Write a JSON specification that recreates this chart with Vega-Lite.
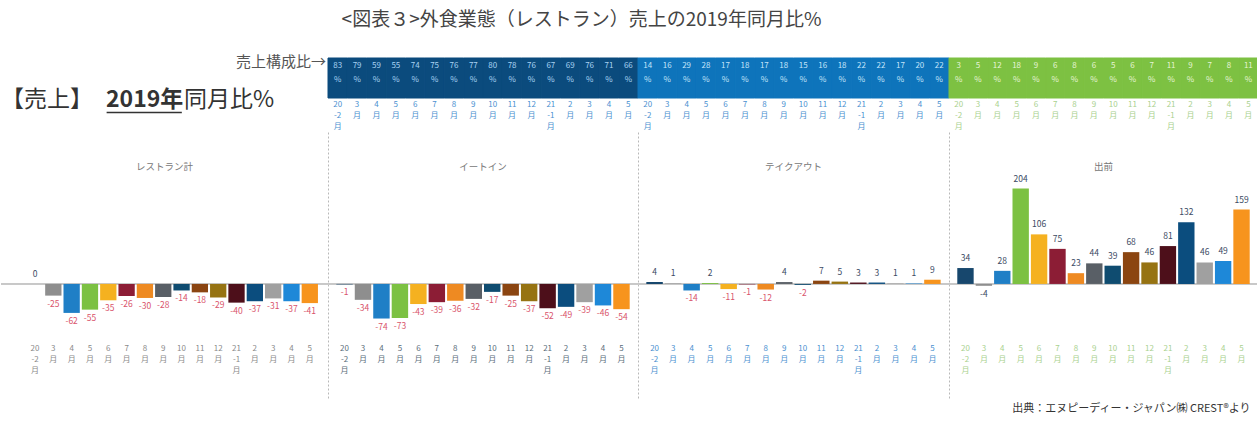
{
  "$schema": "https://vega.github.io/schema/vega-lite/v6.json",
  "padding": {"left": 0, "top": 11, "right": 0, "bottom": 0},
  "background": "white",
  "config": {
    "font": "Noto Sans CJK JP",
    "view": {"stroke": null},
    "text": {"font": "Noto Sans CJK JP"},
    "axis": {"labelFont": "Noto Sans CJK JP"},
    "title": {"font": "Noto Sans CJK JP"}
  },
  "title": {"text": "<図表３>外食業態（レストラン）売上の2019年同月比%", "fontSize": 19, "fontWeight": "normal", "color": "#444", "anchor": "middle", "dx": -48, "offset": 25},
  "data": {"name": "d"},
  "datasets": {
    "d": [
      {"p": "レストラン計", "m": "2020-02", "lbl": "20|-2|月", "v": 0},
      {"p": "レストラン計", "m": "2020-03", "lbl": "3|月", "v": -25},
      {"p": "レストラン計", "m": "2020-04", "lbl": "4|月", "v": -62},
      {"p": "レストラン計", "m": "2020-05", "lbl": "5|月", "v": -55},
      {"p": "レストラン計", "m": "2020-06", "lbl": "6|月", "v": -35},
      {"p": "レストラン計", "m": "2020-07", "lbl": "7|月", "v": -26},
      {"p": "レストラン計", "m": "2020-08", "lbl": "8|月", "v": -30},
      {"p": "レストラン計", "m": "2020-09", "lbl": "9|月", "v": -28},
      {"p": "レストラン計", "m": "2020-10", "lbl": "10|月", "v": -14},
      {"p": "レストラン計", "m": "2020-11", "lbl": "11|月", "v": -18},
      {"p": "レストラン計", "m": "2020-12", "lbl": "12|月", "v": -29},
      {"p": "レストラン計", "m": "2021-01", "lbl": "21|-1|月", "v": -40},
      {"p": "レストラン計", "m": "2021-02", "lbl": "2|月", "v": -37},
      {"p": "レストラン計", "m": "2021-03", "lbl": "3|月", "v": -31},
      {"p": "レストラン計", "m": "2021-04", "lbl": "4|月", "v": -37},
      {"p": "レストラン計", "m": "2021-05", "lbl": "5|月", "v": -41},
      {"p": "イートイン", "m": "2020-02", "lbl": "20|-2|月", "v": -1, "s": 83},
      {"p": "イートイン", "m": "2020-03", "lbl": "3|月", "v": -34, "s": 79},
      {"p": "イートイン", "m": "2020-04", "lbl": "4|月", "v": -74, "s": 59},
      {"p": "イートイン", "m": "2020-05", "lbl": "5|月", "v": -73, "s": 55},
      {"p": "イートイン", "m": "2020-06", "lbl": "6|月", "v": -43, "s": 74},
      {"p": "イートイン", "m": "2020-07", "lbl": "7|月", "v": -39, "s": 75},
      {"p": "イートイン", "m": "2020-08", "lbl": "8|月", "v": -36, "s": 76},
      {"p": "イートイン", "m": "2020-09", "lbl": "9|月", "v": -32, "s": 77},
      {"p": "イートイン", "m": "2020-10", "lbl": "10|月", "v": -17, "s": 80},
      {"p": "イートイン", "m": "2020-11", "lbl": "11|月", "v": -25, "s": 78},
      {"p": "イートイン", "m": "2020-12", "lbl": "12|月", "v": -37, "s": 76},
      {"p": "イートイン", "m": "2021-01", "lbl": "21|-1|月", "v": -52, "s": 67},
      {"p": "イートイン", "m": "2021-02", "lbl": "2|月", "v": -49, "s": 69},
      {"p": "イートイン", "m": "2021-03", "lbl": "3|月", "v": -39, "s": 76},
      {"p": "イートイン", "m": "2021-04", "lbl": "4|月", "v": -46, "s": 71},
      {"p": "イートイン", "m": "2021-05", "lbl": "5|月", "v": -54, "s": 66},
      {"p": "テイクアウト", "m": "2020-02", "lbl": "20|-2|月", "v": 4, "s": 14},
      {"p": "テイクアウト", "m": "2020-03", "lbl": "3|月", "v": 1, "s": 16},
      {"p": "テイクアウト", "m": "2020-04", "lbl": "4|月", "v": -14, "s": 29},
      {"p": "テイクアウト", "m": "2020-05", "lbl": "5|月", "v": 2, "s": 28},
      {"p": "テイクアウト", "m": "2020-06", "lbl": "6|月", "v": -11, "s": 17},
      {"p": "テイクアウト", "m": "2020-07", "lbl": "7|月", "v": -1, "s": 18},
      {"p": "テイクアウト", "m": "2020-08", "lbl": "8|月", "v": -12, "s": 17},
      {"p": "テイクアウト", "m": "2020-09", "lbl": "9|月", "v": 4, "s": 18},
      {"p": "テイクアウト", "m": "2020-10", "lbl": "10|月", "v": -2, "s": 15},
      {"p": "テイクアウト", "m": "2020-11", "lbl": "11|月", "v": 7, "s": 16},
      {"p": "テイクアウト", "m": "2020-12", "lbl": "12|月", "v": 5, "s": 18},
      {"p": "テイクアウト", "m": "2021-01", "lbl": "21|-1|月", "v": 3, "s": 22},
      {"p": "テイクアウト", "m": "2021-02", "lbl": "2|月", "v": 3, "s": 22},
      {"p": "テイクアウト", "m": "2021-03", "lbl": "3|月", "v": 1, "s": 17},
      {"p": "テイクアウト", "m": "2021-04", "lbl": "4|月", "v": 1, "s": 20},
      {"p": "テイクアウト", "m": "2021-05", "lbl": "5|月", "v": 9, "s": 22},
      {"p": "出前", "m": "2020-02", "lbl": "20|-2|月", "v": 34, "s": 3},
      {"p": "出前", "m": "2020-03", "lbl": "3|月", "v": -4, "s": 5},
      {"p": "出前", "m": "2020-04", "lbl": "4|月", "v": 28, "s": 12},
      {"p": "出前", "m": "2020-05", "lbl": "5|月", "v": 204, "s": 18},
      {"p": "出前", "m": "2020-06", "lbl": "6|月", "v": 106, "s": 9},
      {"p": "出前", "m": "2020-07", "lbl": "7|月", "v": 75, "s": 6},
      {"p": "出前", "m": "2020-08", "lbl": "8|月", "v": 23, "s": 8},
      {"p": "出前", "m": "2020-09", "lbl": "9|月", "v": 44, "s": 6},
      {"p": "出前", "m": "2020-10", "lbl": "10|月", "v": 39, "s": 5},
      {"p": "出前", "m": "2020-11", "lbl": "11|月", "v": 68, "s": 6},
      {"p": "出前", "m": "2020-12", "lbl": "12|月", "v": 46, "s": 7},
      {"p": "出前", "m": "2021-01", "lbl": "21|-1|月", "v": 81, "s": 11},
      {"p": "出前", "m": "2021-02", "lbl": "2|月", "v": 132, "s": 9},
      {"p": "出前", "m": "2021-03", "lbl": "3|月", "v": 46, "s": 7},
      {"p": "出前", "m": "2021-04", "lbl": "4|月", "v": 49, "s": 8},
      {"p": "出前", "m": "2021-05", "lbl": "5|月", "v": 159, "s": 11}
    ]
  },
  "bounds": "flush",
  "spacing": 74,
  "vconcat": [
    {
      "bounds": "flush",
      "spacing": 0,
      "hconcat": [
        {
          "width": 327, "height": 40,
          "layer": [
            {"data": {"values": [{"t": "売上構成比→"}]}, "mark": {"type": "text", "align": "right", "baseline": "middle", "fontSize": 15, "color": "#555", "dx": -2, "dy": 4},
             "encoding": {"x": {"datum": 1, "type": "quantitative", "scale": {"domain": [0, 1]}, "axis": null}, "y": {"datum": 1, "type": "quantitative", "scale": {"domain": [0, 1]}, "axis": null}, "text": {"field": "t"}}},
            {"data": {"values": [{"t": "【売上】"}]}, "mark": {"type": "text", "align": "left", "baseline": "middle", "fontSize": 23, "color": "#333", "dx": 0, "dy": 2},
             "encoding": {"x": {"datum": 0, "type": "quantitative", "scale": {"domain": [0, 1]}, "axis": null}, "y": {"datum": 0, "type": "quantitative", "scale": {"domain": [0, 1]}, "axis": null}, "text": {"field": "t"}}},
            {"data": {"values": [{"t": "2019年"}]}, "mark": {"type": "text", "align": "left", "baseline": "middle", "fontSize": 23, "fontWeight": "bold", "color": "#333", "dx": 105, "dy": 2},
             "encoding": {"x": {"datum": 0, "type": "quantitative", "scale": {"domain": [0, 1]}, "axis": null}, "y": {"datum": 0, "type": "quantitative", "scale": {"domain": [0, 1]}, "axis": null}, "text": {"field": "t"}}},
            {"data": {"values": [{"t": "同月比%"}]}, "mark": {"type": "text", "align": "left", "baseline": "middle", "fontSize": 23, "color": "#333", "dx": 183, "dy": 2},
             "encoding": {"x": {"datum": 0, "type": "quantitative", "scale": {"domain": [0, 1]}, "axis": null}, "y": {"datum": 0, "type": "quantitative", "scale": {"domain": [0, 1]}, "axis": null}, "text": {"field": "t"}}},
            {"data": {"values": [{"t": "u"}]}, "mark": {"type": "rule", "color": "#333", "strokeWidth": 1.5},
             "encoding": {"x": {"datum": 0.323, "type": "quantitative", "scale": {"domain": [0, 1]}, "axis": null}, "x2": {"datum": 0.553}, "y": {"datum": -0.36, "type": "quantitative", "scale": {"domain": [0, 1]}, "axis": null}}}
          ]
        },
        {
          "width": 310, "height": 40,
          "transform": [{"filter": "datum.p == 'イートイン'"}],
          "layer": [
            {"mark": {"type": "rect", "color": "#0b4b7d", "stroke": "#0b4b7d", "strokeWidth": 1},
             "encoding": {"x": {"field": "m", "type": "nominal", "scale": {"type": "band", "paddingInner": 0, "paddingOuter": 0},
               "axis": {"orient": "bottom", "domain": false, "ticks": false, "grid": false, "labelAngle": 0, "labelFontSize": 8, "labelColor": "#4a90d0", "labelBaseline": "top", "labelPadding": 2, "labelLineHeight": 11, "labelOverlap": false, "title": null,
                 "labelExpr": "datum.value == '2020-02' ? ['20','-2','月'] : datum.value == '2021-01' ? ['21','-1','月'] : [toString(toNumber(slice(datum.value, 5))), '月']"}}}},
            {"mark": {"type": "text", "fontSize": 8, "color": "#a9d3f3", "baseline": "middle", "dy": -12},
             "encoding": {"x": {"field": "m", "type": "nominal"}, "text": {"field": "s"}}},
            {"mark": {"type": "text", "fontSize": 8, "color": "#a9d3f3", "baseline": "middle", "dy": 2, "text": "%"},
             "encoding": {"x": {"field": "m", "type": "nominal"}}}
          ]
        },
        {
          "width": 311, "height": 40,
          "transform": [{"filter": "datum.p == 'テイクアウト'"}],
          "layer": [
            {"mark": {"type": "rect", "color": "#0e74bb", "stroke": "#0e74bb", "strokeWidth": 1},
             "encoding": {"x": {"field": "m", "type": "nominal", "scale": {"type": "band", "paddingInner": 0, "paddingOuter": 0},
               "axis": {"orient": "bottom", "domain": false, "ticks": false, "grid": false, "labelAngle": 0, "labelFontSize": 8, "labelColor": "#4a90d0", "labelBaseline": "top", "labelPadding": 2, "labelLineHeight": 11, "labelOverlap": false, "title": null,
                 "labelExpr": "datum.value == '2020-02' ? ['20','-2','月'] : datum.value == '2021-01' ? ['21','-1','月'] : [toString(toNumber(slice(datum.value, 5))), '月']"}}}},
            {"mark": {"type": "text", "fontSize": 8, "color": "#c4e4fa", "baseline": "middle", "dy": -12},
             "encoding": {"x": {"field": "m", "type": "nominal"}, "text": {"field": "s"}}},
            {"mark": {"type": "text", "fontSize": 8, "color": "#c4e4fa", "baseline": "middle", "dy": 2, "text": "%"},
             "encoding": {"x": {"field": "m", "type": "nominal"}}}
          ]
        },
        {
          "width": 309, "height": 40,
          "transform": [{"filter": "datum.p == '出前'"}],
          "layer": [
            {"mark": {"type": "rect", "color": "#7dc142", "stroke": "#7dc142", "strokeWidth": 1},
             "encoding": {"x": {"field": "m", "type": "nominal", "scale": {"type": "band", "paddingInner": 0, "paddingOuter": 0},
               "axis": {"orient": "bottom", "domain": false, "ticks": false, "grid": false, "labelAngle": 0, "labelFontSize": 8, "labelColor": "#a9d18e", "labelBaseline": "top", "labelPadding": 2, "labelLineHeight": 11, "labelOverlap": false, "title": null,
                 "labelExpr": "datum.value == '2020-02' ? ['20','-2','月'] : datum.value == '2021-01' ? ['21','-1','月'] : [toString(toNumber(slice(datum.value, 5))), '月']"}}}},
            {"mark": {"type": "text", "fontSize": 8, "color": "#e6f4d6", "baseline": "middle", "dy": -12},
             "encoding": {"x": {"field": "m", "type": "nominal"}, "text": {"field": "s"}}},
            {"mark": {"type": "text", "fontSize": 8, "color": "#e6f4d6", "baseline": "middle", "dy": 2, "text": "%"},
             "encoding": {"x": {"field": "m", "type": "nominal"}}}
          ]
        }
      ]
    },
    {
      "bounds": "flush",
      "spacing": 0,
      "title": {"text": "出典：エヌピーディー・ジャパン㈱ CREST®より", "orient": "bottom", "anchor": "end", "fontSize": 11, "fontWeight": "normal", "color": "#333", "offset": 5, "dx": -8},
      "hconcat": [
        {
          "width": 327, "height": 266,
          "transform": [{"filter": "datum.p == 'レストラン計'"}],
          "layer": [
            {"mark": {"type": "rule", "color": "#c8c8c8", "strokeWidth": 1},
             "encoding": {"y": {"datum": 0, "type": "quantitative", "scale": {"domain": [-244, 325], "nice": false, "zero": false}, "axis": null}}},
            {"mark": {"type": "bar"},
             "encoding": {
               "x": {"field": "m", "type": "nominal", "scale": {"type": "band", "paddingInner": 0.11, "paddingOuter": 0.98, "align": 0.72}, "axis": null},
               "y": {"field": "v", "type": "quantitative", "scale": {"domain": [-244, 325], "nice": false, "zero": false}, "axis": null},
               "color": {"field": "m", "type": "nominal", "legend": null, "scale": {"domain": ["2020-02","2020-03","2020-04","2020-05","2020-06","2020-07","2020-08","2020-09","2020-10","2020-11","2020-12","2021-01","2021-02","2021-03","2021-04","2021-05"], "range": ["#17476d","#8e8e8e","#1f7fc6","#7cc142","#f5b120","#8c1d35","#ee8a22","#595f66","#0f4c70","#8b4511","#967312","#4d0f1a","#0b4d7e","#a0a0a0","#1e88d8","#f7941d"]}}
             }},
            {"transform": [{"filter": "datum.v < 0"}],
             "mark": {"type": "text", "baseline": "top", "dy": 4, "fontSize": 8.5, "color": "#d9546b"},
             "encoding": {"x": {"field": "m", "type": "nominal"}, "y": {"field": "v", "type": "quantitative", "axis": null}, "text": {"field": "v"}}},
            {"transform": [{"filter": "datum.v >= 0"}],
             "mark": {"type": "text", "baseline": "bottom", "dy": -5, "fontSize": 8.5, "color": "#3b4a63"},
             "encoding": {"x": {"field": "m", "type": "nominal"}, "y": {"field": "v", "type": "quantitative", "axis": null}, "text": {"field": "v"}}},
            {"mark": {"type": "text", "baseline": "middle", "lineBreak": "|", "lineHeight": 11, "fontSize": 8, "color": "#8a8a8a"},
             "encoding": {"x": {"field": "m", "type": "nominal"}, "y": {"datum": -139, "type": "quantitative", "axis": null}, "text": {"field": "lbl"}}},
            {"transform": [{"filter": "datum.m == '2020-02'"}],
             "mark": {"type": "text", "baseline": "middle", "fontSize": 9.5, "color": "#777"},
             "encoding": {"y": {"datum": 250, "type": "quantitative", "axis": null}, "text": {"field": "p"}}}
          ]
        },
        {
          "width": 310, "height": 266,
          "transform": [{"filter": "datum.p == 'イートイン'"}],
          "layer": [
            {"mark": {"type": "rule", "color": "#c8c8c8", "strokeWidth": 1},
             "encoding": {"y": {"datum": 0, "type": "quantitative", "scale": {"domain": [-244, 325], "nice": false, "zero": false}, "axis": {"domain": true, "domainColor": "#b8b8b8", "domainDash": [2, 2], "ticks": false, "labels": false, "grid": false, "title": null}}}},
            {"mark": {"type": "bar"},
             "encoding": {
               "x": {"field": "m", "type": "nominal", "scale": {"type": "band", "paddingInner": 0.11, "paddingOuter": 0.45}, "axis": null},
               "y": {"field": "v", "type": "quantitative", "scale": {"domain": [-244, 325], "nice": false, "zero": false}, "axis": {"domain": true, "domainColor": "#b8b8b8", "domainDash": [2, 2], "ticks": false, "labels": false, "grid": false, "title": null}},
               "color": {"field": "m", "type": "nominal", "legend": null, "scale": {"domain": ["2020-02","2020-03","2020-04","2020-05","2020-06","2020-07","2020-08","2020-09","2020-10","2020-11","2020-12","2021-01","2021-02","2021-03","2021-04","2021-05"], "range": ["#17476d","#8e8e8e","#1f7fc6","#7cc142","#f5b120","#8c1d35","#ee8a22","#595f66","#0f4c70","#8b4511","#967312","#4d0f1a","#0b4d7e","#a0a0a0","#1e88d8","#f7941d"]}}
             }},
            {"transform": [{"filter": "datum.v < 0"}],
             "mark": {"type": "text", "baseline": "top", "dy": 4, "fontSize": 8.5, "color": "#d9546b"},
             "encoding": {"x": {"field": "m", "type": "nominal"}, "y": {"field": "v", "type": "quantitative"}, "text": {"field": "v"}}},
            {"transform": [{"filter": "datum.v >= 0"}],
             "mark": {"type": "text", "baseline": "bottom", "dy": -5, "fontSize": 8.5, "color": "#3b4a63"},
             "encoding": {"x": {"field": "m", "type": "nominal"}, "y": {"field": "v", "type": "quantitative"}, "text": {"field": "v"}}},
            {"mark": {"type": "text", "baseline": "middle", "lineBreak": "|", "lineHeight": 11, "fontSize": 8, "color": "#5a6d7a"},
             "encoding": {"x": {"field": "m", "type": "nominal"}, "y": {"datum": -139, "type": "quantitative"}, "text": {"field": "lbl"}}},
            {"transform": [{"filter": "datum.m == '2020-02'"}],
             "mark": {"type": "text", "baseline": "middle", "fontSize": 9.5, "color": "#777"},
             "encoding": {"y": {"datum": 250, "type": "quantitative"}, "text": {"field": "p"}}}
          ]
        },
        {
          "width": 311, "height": 266,
          "transform": [{"filter": "datum.p == 'テイクアウト'"}],
          "layer": [
            {"mark": {"type": "rule", "color": "#c8c8c8", "strokeWidth": 1},
             "encoding": {"y": {"datum": 0, "type": "quantitative", "scale": {"domain": [-244, 325], "nice": false, "zero": false}, "axis": {"domain": true, "domainColor": "#b8b8b8", "domainDash": [2, 2], "ticks": false, "labels": false, "grid": false, "title": null}}}},
            {"mark": {"type": "bar"},
             "encoding": {
               "x": {"field": "m", "type": "nominal", "scale": {"type": "band", "paddingInner": 0.11, "paddingOuter": 0.45}, "axis": null},
               "y": {"field": "v", "type": "quantitative", "scale": {"domain": [-244, 325], "nice": false, "zero": false}, "axis": {"domain": true, "domainColor": "#b8b8b8", "domainDash": [2, 2], "ticks": false, "labels": false, "grid": false, "title": null}},
               "color": {"field": "m", "type": "nominal", "legend": null, "scale": {"domain": ["2020-02","2020-03","2020-04","2020-05","2020-06","2020-07","2020-08","2020-09","2020-10","2020-11","2020-12","2021-01","2021-02","2021-03","2021-04","2021-05"], "range": ["#17476d","#8e8e8e","#1f7fc6","#7cc142","#f5b120","#8c1d35","#ee8a22","#595f66","#0f4c70","#8b4511","#967312","#4d0f1a","#0b4d7e","#a0a0a0","#1e88d8","#f7941d"]}}
             }},
            {"transform": [{"filter": "datum.v < 0"}],
             "mark": {"type": "text", "baseline": "top", "dy": 4, "fontSize": 8.5, "color": "#d9546b"},
             "encoding": {"x": {"field": "m", "type": "nominal"}, "y": {"field": "v", "type": "quantitative"}, "text": {"field": "v"}}},
            {"transform": [{"filter": "datum.v >= 0"}],
             "mark": {"type": "text", "baseline": "bottom", "dy": -5, "fontSize": 8.5, "color": "#3b4a63"},
             "encoding": {"x": {"field": "m", "type": "nominal"}, "y": {"field": "v", "type": "quantitative"}, "text": {"field": "v"}}},
            {"mark": {"type": "text", "baseline": "middle", "lineBreak": "|", "lineHeight": 11, "fontSize": 8, "color": "#4a90d0"},
             "encoding": {"x": {"field": "m", "type": "nominal"}, "y": {"datum": -139, "type": "quantitative"}, "text": {"field": "lbl"}}},
            {"transform": [{"filter": "datum.m == '2020-02'"}],
             "mark": {"type": "text", "baseline": "middle", "fontSize": 9.5, "color": "#777"},
             "encoding": {"y": {"datum": 250, "type": "quantitative"}, "text": {"field": "p"}}}
          ]
        },
        {
          "width": 309, "height": 266,
          "transform": [{"filter": "datum.p == '出前'"}],
          "layer": [
            {"mark": {"type": "rule", "color": "#c8c8c8", "strokeWidth": 1},
             "encoding": {"y": {"datum": 0, "type": "quantitative", "scale": {"domain": [-244, 325], "nice": false, "zero": false}, "axis": {"domain": true, "domainColor": "#b8b8b8", "domainDash": [2, 2], "ticks": false, "labels": false, "grid": false, "title": null}}}},
            {"mark": {"type": "bar"},
             "encoding": {
               "x": {"field": "m", "type": "nominal", "scale": {"type": "band", "paddingInner": 0.11, "paddingOuter": 0.45}, "axis": null},
               "y": {"field": "v", "type": "quantitative", "scale": {"domain": [-244, 325], "nice": false, "zero": false}, "axis": {"domain": true, "domainColor": "#b8b8b8", "domainDash": [2, 2], "ticks": false, "labels": false, "grid": false, "title": null}},
               "color": {"field": "m", "type": "nominal", "legend": null, "scale": {"domain": ["2020-02","2020-03","2020-04","2020-05","2020-06","2020-07","2020-08","2020-09","2020-10","2020-11","2020-12","2021-01","2021-02","2021-03","2021-04","2021-05"], "range": ["#17476d","#8e8e8e","#1f7fc6","#7cc142","#f5b120","#8c1d35","#ee8a22","#595f66","#0f4c70","#8b4511","#967312","#4d0f1a","#0b4d7e","#a0a0a0","#1e88d8","#f7941d"]}}
             }},
            {"transform": [{"filter": "datum.v < 0"}],
             "mark": {"type": "text", "baseline": "top", "dy": 4, "fontSize": 8.5, "color": "#3b4a63"},
             "encoding": {"x": {"field": "m", "type": "nominal"}, "y": {"field": "v", "type": "quantitative"}, "text": {"field": "v"}}},
            {"transform": [{"filter": "datum.v >= 0"}],
             "mark": {"type": "text", "baseline": "bottom", "dy": -5, "fontSize": 8.5, "color": "#3b4a63"},
             "encoding": {"x": {"field": "m", "type": "nominal"}, "y": {"field": "v", "type": "quantitative"}, "text": {"field": "v"}}},
            {"mark": {"type": "text", "baseline": "middle", "lineBreak": "|", "lineHeight": 11, "fontSize": 8, "color": "#a9d18e"},
             "encoding": {"x": {"field": "m", "type": "nominal"}, "y": {"datum": -139, "type": "quantitative"}, "text": {"field": "lbl"}}},
            {"transform": [{"filter": "datum.m == '2020-02'"}],
             "mark": {"type": "text", "baseline": "middle", "fontSize": 9.5, "color": "#777"},
             "encoding": {"y": {"datum": 250, "type": "quantitative"}, "text": {"field": "p"}}}
          ]
        }
      ]
    }
  ]
}
